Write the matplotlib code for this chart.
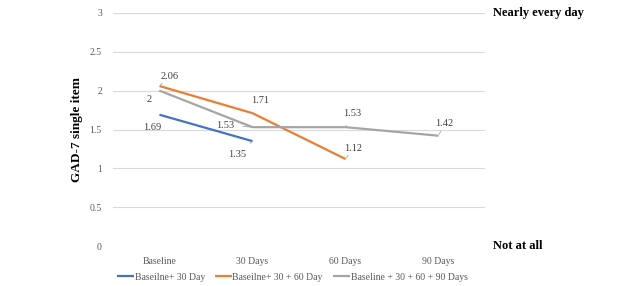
import numpy as np
import matplotlib.pyplot as plt

plt.rcParams['font.family'] = ['Liberation Serif', 'DejaVu Serif']

# data
categories = ['Baseline', '30 Days', '60 Days', '90 Days']
series_names = ['Baseilne+ 30 Day', 'Baseilne+ 30 + 60 Day', 'Baseline + 30 + 60 + 90 Days']
blue_vals = [1.69, 1.35]
orange_vals = [2.06, 1.71, 1.12]
grey_vals = [2.00, 1.53, 1.53, 1.42]
colors = ['#4472C4', '#ED7D31', '#A5A5A5']

# label offsets in pixels (dx, dy) for each point
blue_off = [(-7, -13), (-15, -13)]
orange_off = [(10, 10), (8, 13), (8, 11)]
grey_off = [(-10, -9), (-27, 2), (7, 14), (6, 12)]

fig = plt.figure(figsize=(6.4, 2.86), dpi=100)
ax = fig.add_axes([113/640, 1-246/286, 372/640, 233/286])

x = np.arange(len(categories))
all_vals = [blue_vals, orange_vals, grey_vals]
all_off = [blue_off, orange_off, grey_off]
for vals, name, c, offs in zip(all_vals, series_names, colors, all_off):
    xs = x[:len(vals)]
    ax.plot(xs, vals, color=c, lw=1.6, label=name, solid_capstyle='butt')
    for xi, v, (dx, dy) in zip(xs, vals, offs):
        lab = f'{v:g}'
        ax.annotate(lab, (xi, v), xytext=(dx, dy), textcoords='offset pixels',
                    ha='center', va='center', fontsize=7.5, color='#404040',
                    arrowprops=dict(arrowstyle='-', color='#A6A6A6', lw=0.6,
                                    shrinkA=4, shrinkB=1))

ax.set_xlim(-0.5, 3.5)
ax.set_ylim(0, 3)
ax.set_yticks(np.arange(0, 3.01, 0.5))
ax.set_yticklabels(['0', '0.5', '1', '1.5', '2', '2.5', '3'])
ax.set_xticks(x)
ax.set_xticklabels(categories)
ax.tick_params(length=0, labelsize=7, colors='#595959', pad=8)
ax.grid(axis='y', color='#D9D9D9', lw=0.8)
ax.set_axisbelow(True)
for s in ax.spines.values():
    s.set_visible(False)

ax.set_ylabel('GAD-7 single item', fontsize=9.5, fontweight='bold', labelpad=5)

tr = ax.get_yaxis_transform()
ax.text(1.022, 3, 'Nearly every day', transform=tr, ha='left', va='center',
        fontsize=9, fontweight='bold')
ax.text(1.022, 0, 'Not at all', transform=tr, ha='left', va='center',
        fontsize=9, fontweight='bold')

fig.legend(loc='center', bbox_to_anchor=(292/640, 1-277/286), ncol=3, frameon=False,
           fontsize=7, handlelength=1.75, handletextpad=0.1, columnspacing=1.0,
           labelcolor='#595959')

fig.savefig('out.png', dpi=100)
